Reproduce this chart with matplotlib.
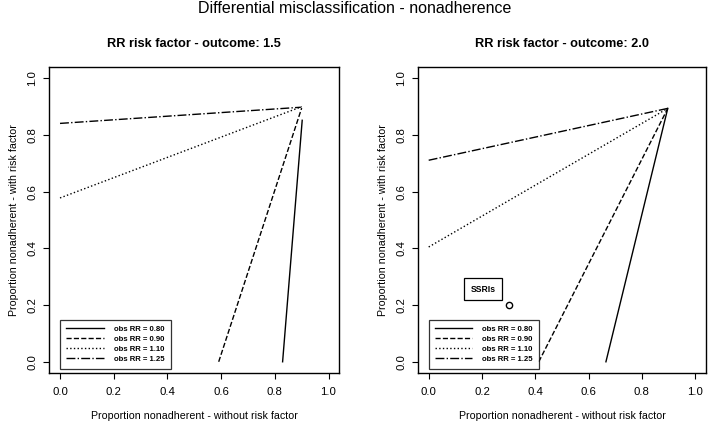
import numpy as np
import matplotlib.pyplot as plt

plt.rcParams['font.family'] = ['Liberation Sans', 'DejaVu Sans']

# lines: (x start, y start) -> (x end, y end)
legend_labels = ['obs RR = 0.80', 'obs RR = 0.90', 'obs RR = 1.10', 'obs RR = 1.25']
styles = ['-', '--', ':', '-.']

# RR risk factor - outcome: 1.5
x0_15 = [0.829, 0.591, 0.0, 0.0]
y0_15 = [0.0, 0.0, 0.578, 0.841]
x1_15 = [0.902, 0.900, 0.900, 0.897]
y1_15 = [0.852, 0.895, 0.900, 0.898]

# RR risk factor - outcome: 2.0
x0_20 = [0.665, 0.413, 0.0, 0.0]
y0_20 = [0.0, 0.0, 0.405, 0.711]
x1_20 = [0.897, 0.897, 0.897, 0.897]
y1_20 = [0.894, 0.894, 0.894, 0.894]

ssri_x = [0.30]
ssri_y = [0.20]

fig = plt.figure(figsize=(7.09, 4.24), dpi=100)
fig.text(0.5, 0.981, 'Differential misclassification - nonadherence',
         ha='center', va='center', fontsize=11.5)

ax1 = fig.add_axes([0.0695, 0.120, 0.409, 0.722])
ax2 = fig.add_axes([0.5896, 0.120, 0.406, 0.722])

panels = [(ax1, 'RR risk factor - outcome: 1.5', x0_15, y0_15, x1_15, y1_15),
          (ax2, 'RR risk factor - outcome: 2.0', x0_20, y0_20, x1_20, y1_20)]

for ax, title, xs, ys, xe, ye in panels:
    for i in range(4):
        ax.plot([xs[i], xe[i]], [ys[i], ye[i]], color='black', lw=1.0,
                ls=styles[i], label=legend_labels[i])
    ax.set_xlim(-0.04, 1.04)
    ax.set_ylim(-0.04, 1.04)
    ticks = [0.0, 0.2, 0.4, 0.6, 0.8, 1.0]
    ax.set_xticks(ticks)
    ax.set_yticks(ticks)
    ax.set_xticklabels(['%.1f' % t for t in ticks], fontsize=8.2)
    ax.set_yticklabels(['%.1f' % t for t in ticks], fontsize=8.2, rotation=90, va='center')
    ax.tick_params(direction='out', length=4.5, width=0.8)
    ax.tick_params(axis='x', pad=5.5)
    ax.tick_params(axis='y', pad=4)
    for s in ax.spines.values():
        s.set_linewidth(1.0)
    ax.set_title(title, fontsize=9.2, fontweight='bold', pad=14.5)
    ax.set_xlabel('Proportion nonadherent - without risk factor', fontsize=7.7, labelpad=10)
    ax.set_ylabel('Proportion nonadherent - with risk factor', fontsize=7.7, labelpad=6)
    leg = ax.legend(loc='upper left', bbox_to_anchor=(0.0, 0.149), bbox_transform=ax.transData,
                    prop={'weight': 'bold', 'size': 5.6}, frameon=True, fancybox=False,
                    edgecolor='black', handlelength=4.8, borderpad=0.8, labelspacing=0.3,
                    handletextpad=1.3, borderaxespad=0)
    leg.get_frame().set_linewidth(0.9)

ax2.plot(ssri_x, ssri_y, 'o', mfc='white', mec='black', ms=4.5, mew=1.0)
ax2.text(0.205, 0.256, 'SSRIs', ha='center', va='center', fontsize=6.2, fontweight='bold',
         bbox=dict(boxstyle='square,pad=0.75', fc='white', ec='black', lw=0.9))

fig.savefig('out.png', dpi=100)
